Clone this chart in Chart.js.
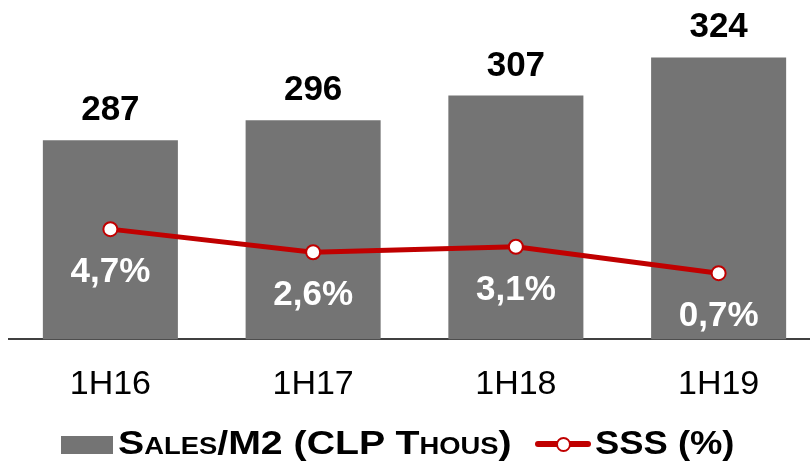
<!DOCTYPE html>
<html>
<head>
<meta charset="utf-8">
<script src="https://cdn.jsdelivr.net/npm/chart.js@4/dist/chart.umd.min.js"></script>
<style>
  html, body { margin: 0; padding: 0; background: #fff; overflow: hidden; }
  #wrap { position: absolute; left: 0; top: 0; width: 829px; height: 462px; }
  #legend span { position: absolute; display: block; }
  .txt {
    font-family: "Liberation Sans", Arial, sans-serif;
    font-weight: bold; font-size: 33px; line-height: 33px;
    color: #000; white-space: nowrap; transform-origin: 0 0;
  }
  .sc { font-variant: small-caps; }
</style>
</head>
<body>
<div id="wrap"><canvas id="c" width="829" height="462"></canvas></div>
<div id="legend">
  <span style="left:61px;top:436px;width:52px;height:18px;background:#747474"></span>
  <span id="lg1" class="txt sc" style="left:118px;top:426px">Sales/M2 (CLP Thous)</span>
  <span style="left:535px;top:441px;width:56px;height:6px;background:#c00000;border-radius:3px"></span>
  <span style="left:556px;top:437px;width:11px;height:11px;background:#fff;border:2px solid #c00000;border-radius:50%"></span>
  <span id="lg2" class="txt" style="left:595px;top:426px">SSS (%)</span>
</div>
<script>
// Half-year periods and the two series shown on the chart
const periods = ['1H16', '1H17', '1H18', '1H19'];
const salesPerM2 = [287, 296, 307, 324];   // CLP thousands
const sssPct = [4.7, 2.6, 3.1, 0.7];       // same-store sales growth, %

const fmtPct = v => v.toFixed(1).replace('.', ',') + '%';

// Draws the value labels above the bars and the growth labels under the line points
const valueLabels = {
  id: 'valueLabels',
  afterDatasetsDraw(chart) {
    const ctx = chart.ctx;
    ctx.save();
    ctx.textAlign = 'center';
    ctx.textBaseline = 'alphabetic';
    ctx.font = 'bold 35px "Liberation Sans", Arial, sans-serif';

    const barMeta = chart.getDatasetMeta(1);
    ctx.fillStyle = '#000';
    barMeta.data.forEach((el, i) => {
      ctx.fillText(String(salesPerM2[i]), el.x, el.y - 20);
    });

    const lineMeta = chart.getDatasetMeta(0);
    ctx.fillStyle = '#fff';
    lineMeta.data.forEach((el, i) => {
      ctx.fillText(fmtPct(sssPct[i]), el.x, el.y + 53);
    });
    ctx.restore();
  }
};

new Chart(document.getElementById('c'), {
  data: {
    labels: periods,
    datasets: [
      {
        type: 'line',
        label: 'SSS (%)',
        data: sssPct,
        yAxisID: 'y2',
        order: 0,
        borderColor: '#c00000',
        borderWidth: 5,
        tension: 0,
        pointRadius: 7,
        pointBackgroundColor: '#ffffff',
        pointBorderColor: '#c00000',
        pointBorderWidth: 2
      },
      {
        type: 'bar',
        label: 'Sales/M2 (CLP Thous)',
        data: salesPerM2,
        yAxisID: 'y',
        order: 1,
        backgroundColor: '#747474',
        borderWidth: 0,
        categoryPercentage: 1,
        barPercentage: 0.666
      }
    ]
  },
  options: {
    responsive: false,
    animation: false,
    devicePixelRatio: 1,
    layout: { padding: { left: 8, right: 0, top: 0, bottom: 32 } },
    plugins: {
      legend: { display: false },
      tooltip: { enabled: false }
    },
    scales: {
      x: {
        offset: true,
        grid: { display: false, drawTicks: false },
        border: { display: true, color: '#404040', width: 2 },
        ticks: {
          color: '#000',
          padding: 25,
          font: { family: '"Liberation Sans", Arial, sans-serif', size: 34 }
        }
      },
      y: { display: false, min: 198.3, max: 345.6 },
      y2: { display: false, position: 'right', min: -5.3, max: 24.7 }
    }
  },
  plugins: [valueLabels]
});

// Stretch the legend texts to their set widths
[['lg1', 394], ['lg2', 140]].forEach(([id, w]) => {
  const el = document.getElementById(id);
  el.style.transform = 'scaleX(' + (w / el.offsetWidth) + ')';
});
</script>
</body>
</html>
